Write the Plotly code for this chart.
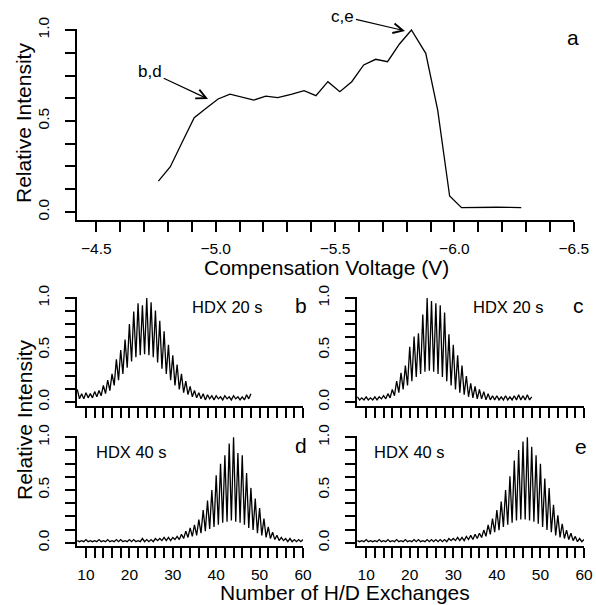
import plotly.graph_objects as go

W, H = 596, 605
FONT = "Liberation Sans, Arial, sans-serif"

# ---------------- Panel a: compensation voltage scan ----------------
cv_volts = [-4.76, -4.81, -4.86, -4.91, -4.96, -5.01, -5.06, -5.11, -5.16, -5.21,
            -5.26, -5.32, -5.37, -5.42, -5.47, -5.52, -5.57, -5.62, -5.67, -5.72,
            -5.77, -5.82, -5.88, -5.93, -5.98, -6.03, -6.08, -6.13, -6.18, -6.23, -6.28]
cv_intensity = [0.170, 0.249, 0.385, 0.518, 0.570, 0.621, 0.648, 0.632, 0.615, 0.637,
                0.628, 0.648, 0.667, 0.639, 0.716, 0.661, 0.716, 0.808, 0.839, 0.826,
                0.923, 1.000, 0.872, 0.560, 0.088, 0.024, 0.026, 0.027, 0.026, 0.025, 0.024]

a_xticks = [-4.5, -4.6, -4.7, -4.8, -4.9, -5.0, -5.1, -5.2, -5.3, -5.4, -5.5,
            -5.6, -5.7, -5.8, -5.9, -6.0, -6.1, -6.2, -6.3, -6.4, -6.5]
a_xticklabels = ["\u22124.5", "", "", "", "", "\u22125.0", "", "", "", "", "\u22125.5",
                 "", "", "", "", "\u22126.0", "", "", "", "", "\u22126.5"]
y_ticks = [0, 0.125, 0.25, 0.375, 0.5, 0.625, 0.75, 0.875, 1.0]
y_ticklabels = ["0.0", "", "", "", "0.5", "", "", "", "1.0"]
hd_xticks = list(range(10, 61, 2))
hd_xticklabels = [str(v) if v % 10 == 0 else "" for v in hd_xticks]

# ---------------- HDX spectra: peak (integer) and valley (half-integer) heights ----------------
b_start = 8
b_peaks = [0.12, 0.08, 0.09, 0.08, 0.10, 0.11, 0.16, 0.21, 0.27, 0.41,
           0.50, 0.60, 0.75, 0.87, 0.95, 0.93, 1.00, 0.96, 0.88, 0.78,
           0.68, 0.55, 0.45, 0.36, 0.27, 0.20, 0.15, 0.11, 0.09, 0.08,
           0.07, 0.06, 0.06, 0.05, 0.06, 0.05, 0.06, 0.05, 0.05, 0.07, 0.08]
b_valleys = [0.03, 0.03, 0.04, 0.04, 0.05, 0.06, 0.08, 0.11, 0.16, 0.21,
             0.27, 0.33, 0.39, 0.43, 0.45, 0.46, 0.45, 0.43, 0.38, 0.32,
             0.27, 0.21, 0.16, 0.12, 0.09, 0.07, 0.05, 0.04, 0.03, 0.02,
             0.03, 0.02, 0.03, 0.02, 0.03, 0.02, 0.03, 0.02, 0.02, 0.03]

c_start = 8
c_peaks = [0.05, 0.04, 0.05, 0.04, 0.05, 0.05, 0.06, 0.08, 0.12, 0.20,
           0.28, 0.35, 0.53, 0.63, 0.66, 0.84, 1.00, 0.97, 0.95, 0.93,
           0.86, 0.65, 0.55, 0.45, 0.35, 0.25, 0.18, 0.15, 0.12, 0.10,
           0.08, 0.06, 0.06, 0.05, 0.06, 0.05, 0.06, 0.07, 0.06, 0.07, 0.05]
c_valleys = [0.02, 0.02, 0.02, 0.02, 0.02, 0.03, 0.03, 0.04, 0.06, 0.09,
             0.12, 0.16, 0.20, 0.24, 0.27, 0.29, 0.30, 0.29, 0.27, 0.24,
             0.20, 0.16, 0.12, 0.09, 0.07, 0.05, 0.04, 0.03, 0.03, 0.02,
             0.02, 0.02, 0.02, 0.02, 0.02, 0.02, 0.02, 0.02, 0.02, 0.02]

d_start = 8
d_peaks = [0.02, 0.02, 0.03, 0.02, 0.02, 0.03, 0.02, 0.03, 0.02, 0.03,
           0.03, 0.02, 0.03, 0.03, 0.02, 0.04, 0.03, 0.03, 0.04, 0.04,
           0.05, 0.05, 0.05, 0.06, 0.08, 0.11, 0.14, 0.17, 0.22, 0.31,
           0.40, 0.50, 0.64, 0.75, 0.83, 0.94, 1.00, 0.85, 0.83, 0.66,
           0.52, 0.42, 0.33, 0.23, 0.15, 0.10, 0.07, 0.05, 0.04, 0.04,
           0.03, 0.03, 0.03]
d_valleys = [0.01, 0.01, 0.01, 0.01, 0.01, 0.01, 0.01, 0.01, 0.01, 0.01,
             0.01, 0.01, 0.01, 0.01, 0.01, 0.01, 0.01, 0.01, 0.02, 0.02,
             0.02, 0.02, 0.03, 0.03, 0.04, 0.05, 0.06, 0.07, 0.09, 0.11,
             0.13, 0.15, 0.17, 0.19, 0.20, 0.21, 0.20, 0.19, 0.17, 0.14,
             0.12, 0.09, 0.07, 0.05, 0.04, 0.03, 0.02, 0.02, 0.01, 0.01,
             0.01, 0.01]

e_start = 8
e_peaks = [0.02, 0.02, 0.03, 0.02, 0.02, 0.03, 0.02, 0.03, 0.02, 0.03,
           0.02, 0.03, 0.02, 0.03, 0.03, 0.02, 0.03, 0.03, 0.03, 0.03,
           0.03, 0.04, 0.04, 0.05, 0.05, 0.06, 0.07, 0.08, 0.09, 0.12,
           0.17, 0.23, 0.31, 0.39, 0.50, 0.63, 0.78, 0.88, 0.96, 1.00,
           0.91, 0.83, 0.75, 0.61, 0.52, 0.36, 0.26, 0.18, 0.12, 0.09,
           0.06, 0.04, 0.03]
e_valleys = [0.01, 0.01, 0.01, 0.01, 0.01, 0.01, 0.01, 0.01, 0.01, 0.01,
             0.01, 0.01, 0.01, 0.01, 0.01, 0.01, 0.01, 0.01, 0.01, 0.01,
             0.01, 0.02, 0.02, 0.02, 0.02, 0.03, 0.03, 0.04, 0.05, 0.06,
             0.08, 0.10, 0.12, 0.15, 0.17, 0.19, 0.21, 0.22, 0.22, 0.21,
             0.20, 0.18, 0.15, 0.12, 0.10, 0.07, 0.05, 0.04, 0.03, 0.02,
             0.01, 0.01]


def interleave(start, peaks, valleys):
    xs, ys = [], []
    for i, p in enumerate(peaks):
        xs.append(start + i)
        ys.append(p)
        if i < len(valleys):
            xs.append(start + i + 0.5)
            ys.append(valleys[i])
    return xs, ys


def xdom(p0, p1):
    return [p0 / W, p1 / W]


def ydom(top, bottom):
    return [1 - bottom / H, 1 - top / H]


def px(x):
    return x / W


def py(y):
    return 1 - y / H


fig = go.Figure()
fig.add_trace(go.Scatter(x=cv_volts, y=cv_intensity, mode="lines",
                         line=dict(color="black", width=1.3),
                         xaxis="x", yaxis="y", showlegend=False))
for (start, pk, vl, ax) in [(b_start, b_peaks, b_valleys, "2"),
                            (c_start, c_peaks, c_valleys, "3"),
                            (d_start, d_peaks, d_valleys, "4"),
                            (e_start, e_peaks, e_valleys, "5")]:
    xs, ys = interleave(start, pk, vl)
    fig.add_trace(go.Scatter(x=xs, y=ys, mode="lines", line=dict(color="black", width=1.3),
                             xaxis="x" + ax, yaxis="y" + ax, showlegend=False))

common = dict(showgrid=False, zeroline=False, showline=True, linecolor="black",
              linewidth=1.8, ticks="outside", ticklen=10, tickwidth=1.6,
              tickcolor="black", automargin=False,
              tickfont=dict(family=FONT, size=15.5, color="black"))

xa = dict(common, tickmode="array", ticklabelstandoff=3)
ya = dict(common, tickmode="array", tickvals=y_ticks, ticktext=y_ticklabels,
          tickangle=-90, ticklabelstandoff=10)

layout = dict(
    template="none",
    width=W, height=H, margin=dict(l=0, r=0, t=0, b=0, pad=0, autoexpand=False),
    paper_bgcolor="white", plot_bgcolor="white", showlegend=False,
    xaxis=dict(xa, domain=xdom(77, 574), range=[-4.419, -6.501],
               tickvals=a_xticks, ticktext=a_xticklabels, anchor="y"),
    yaxis=dict(ya, domain=ydom(29, 220), range=[-0.044, 1.0055], anchor="x"),
    xaxis2=dict(xa, domain=xdom(77, 303), range=[7.93, 60],
                tickvals=hd_xticks, ticktext=["" for _ in hd_xticks], anchor="y2"),
    yaxis2=dict(ya, domain=ydom(297, 406), range=[-0.0386, 1.0096], anchor="x2"),
    xaxis3=dict(xa, domain=xdom(357, 584), range=[7.9, 60],
                tickvals=hd_xticks, ticktext=["" for _ in hd_xticks], anchor="y3"),
    yaxis3=dict(ya, domain=ydom(297, 406), range=[-0.0386, 1.0096], anchor="x3"),
    xaxis4=dict(xa, domain=xdom(77, 303), range=[7.93, 60],
                tickvals=hd_xticks, ticktext=hd_xticklabels, anchor="y4"),
    yaxis4=dict(ya, domain=ydom(436.3, 546), range=[-0.031, 1.0095], anchor="x4"),
    xaxis5=dict(xa, domain=xdom(357, 584), range=[7.9, 60],
                tickvals=hd_xticks, ticktext=hd_xticklabels, anchor="y5"),
    yaxis5=dict(ya, domain=ydom(436.3, 546), range=[-0.031, 1.0095], anchor="x5"),
)
fig.update_layout(**layout)


def txt(x, y, s, size, angle=0):
    fig.add_annotation(x=px(x), y=py(y), xref="paper", yref="paper", text=s,
                       showarrow=False, textangle=angle, xanchor="center", yanchor="middle",
                       font=dict(family=FONT, size=size, color="black"))


txt(326, 268, "Compensation Voltage (V)", 21)
txt(24, 123, "Relative Intensity", 21, -90)
txt(24, 420, "Relative Intensity", 21, -90)
txt(573, 38, "a", 21)
txt(300.5, 305, "b", 21)
txt(578.5, 305, "c", 21)
txt(300.5, 445, "d", 21)
txt(581, 446, "e", 21)
txt(227.5, 307, "HDX 20 s", 16.5)
txt(508.3, 307, "HDX 20 s", 16.5)
txt(131.7, 452.5, "HDX 40 s", 16.5)
txt(409.7, 452.5, "HDX 40 s", 16.5)
fig.add_annotation(x=px(345), y=0, xref="paper", yref="paper", text="Number of H/D Exchanges",
                   showarrow=False, xanchor="center", yanchor="bottom", borderpad=0,
                   font=dict(family=FONT, size=21, color="black"))

# arrows with labels (head positions in data coords, tail offsets in pixels)
fig.add_annotation(x=-4.968, y=0.621, xref="x", yref="y", text="b,d",
                   showarrow=True, arrowhead=5, arrowsize=1.6, arrowwidth=1.2,
                   arrowcolor="black", ax=-57.8, ay=-27, axref="pixel", ayref="pixel",
                   font=dict(family=FONT, size=17, color="black"))
fig.add_annotation(x=-5.793, y=0.995, xref="x", yref="y", text="c,e",
                   showarrow=True, arrowhead=5, arrowsize=1.6, arrowwidth=1.2,
                   arrowcolor="black", ax=-62, ay=-14.5, axref="pixel", ayref="pixel",
                   font=dict(family=FONT, size=17, color="black"))

fig.write_html("out.html", config={"displayModeBar": False},
               post_script="document.body.style.margin='0';document.body.style.overflow='hidden';")
